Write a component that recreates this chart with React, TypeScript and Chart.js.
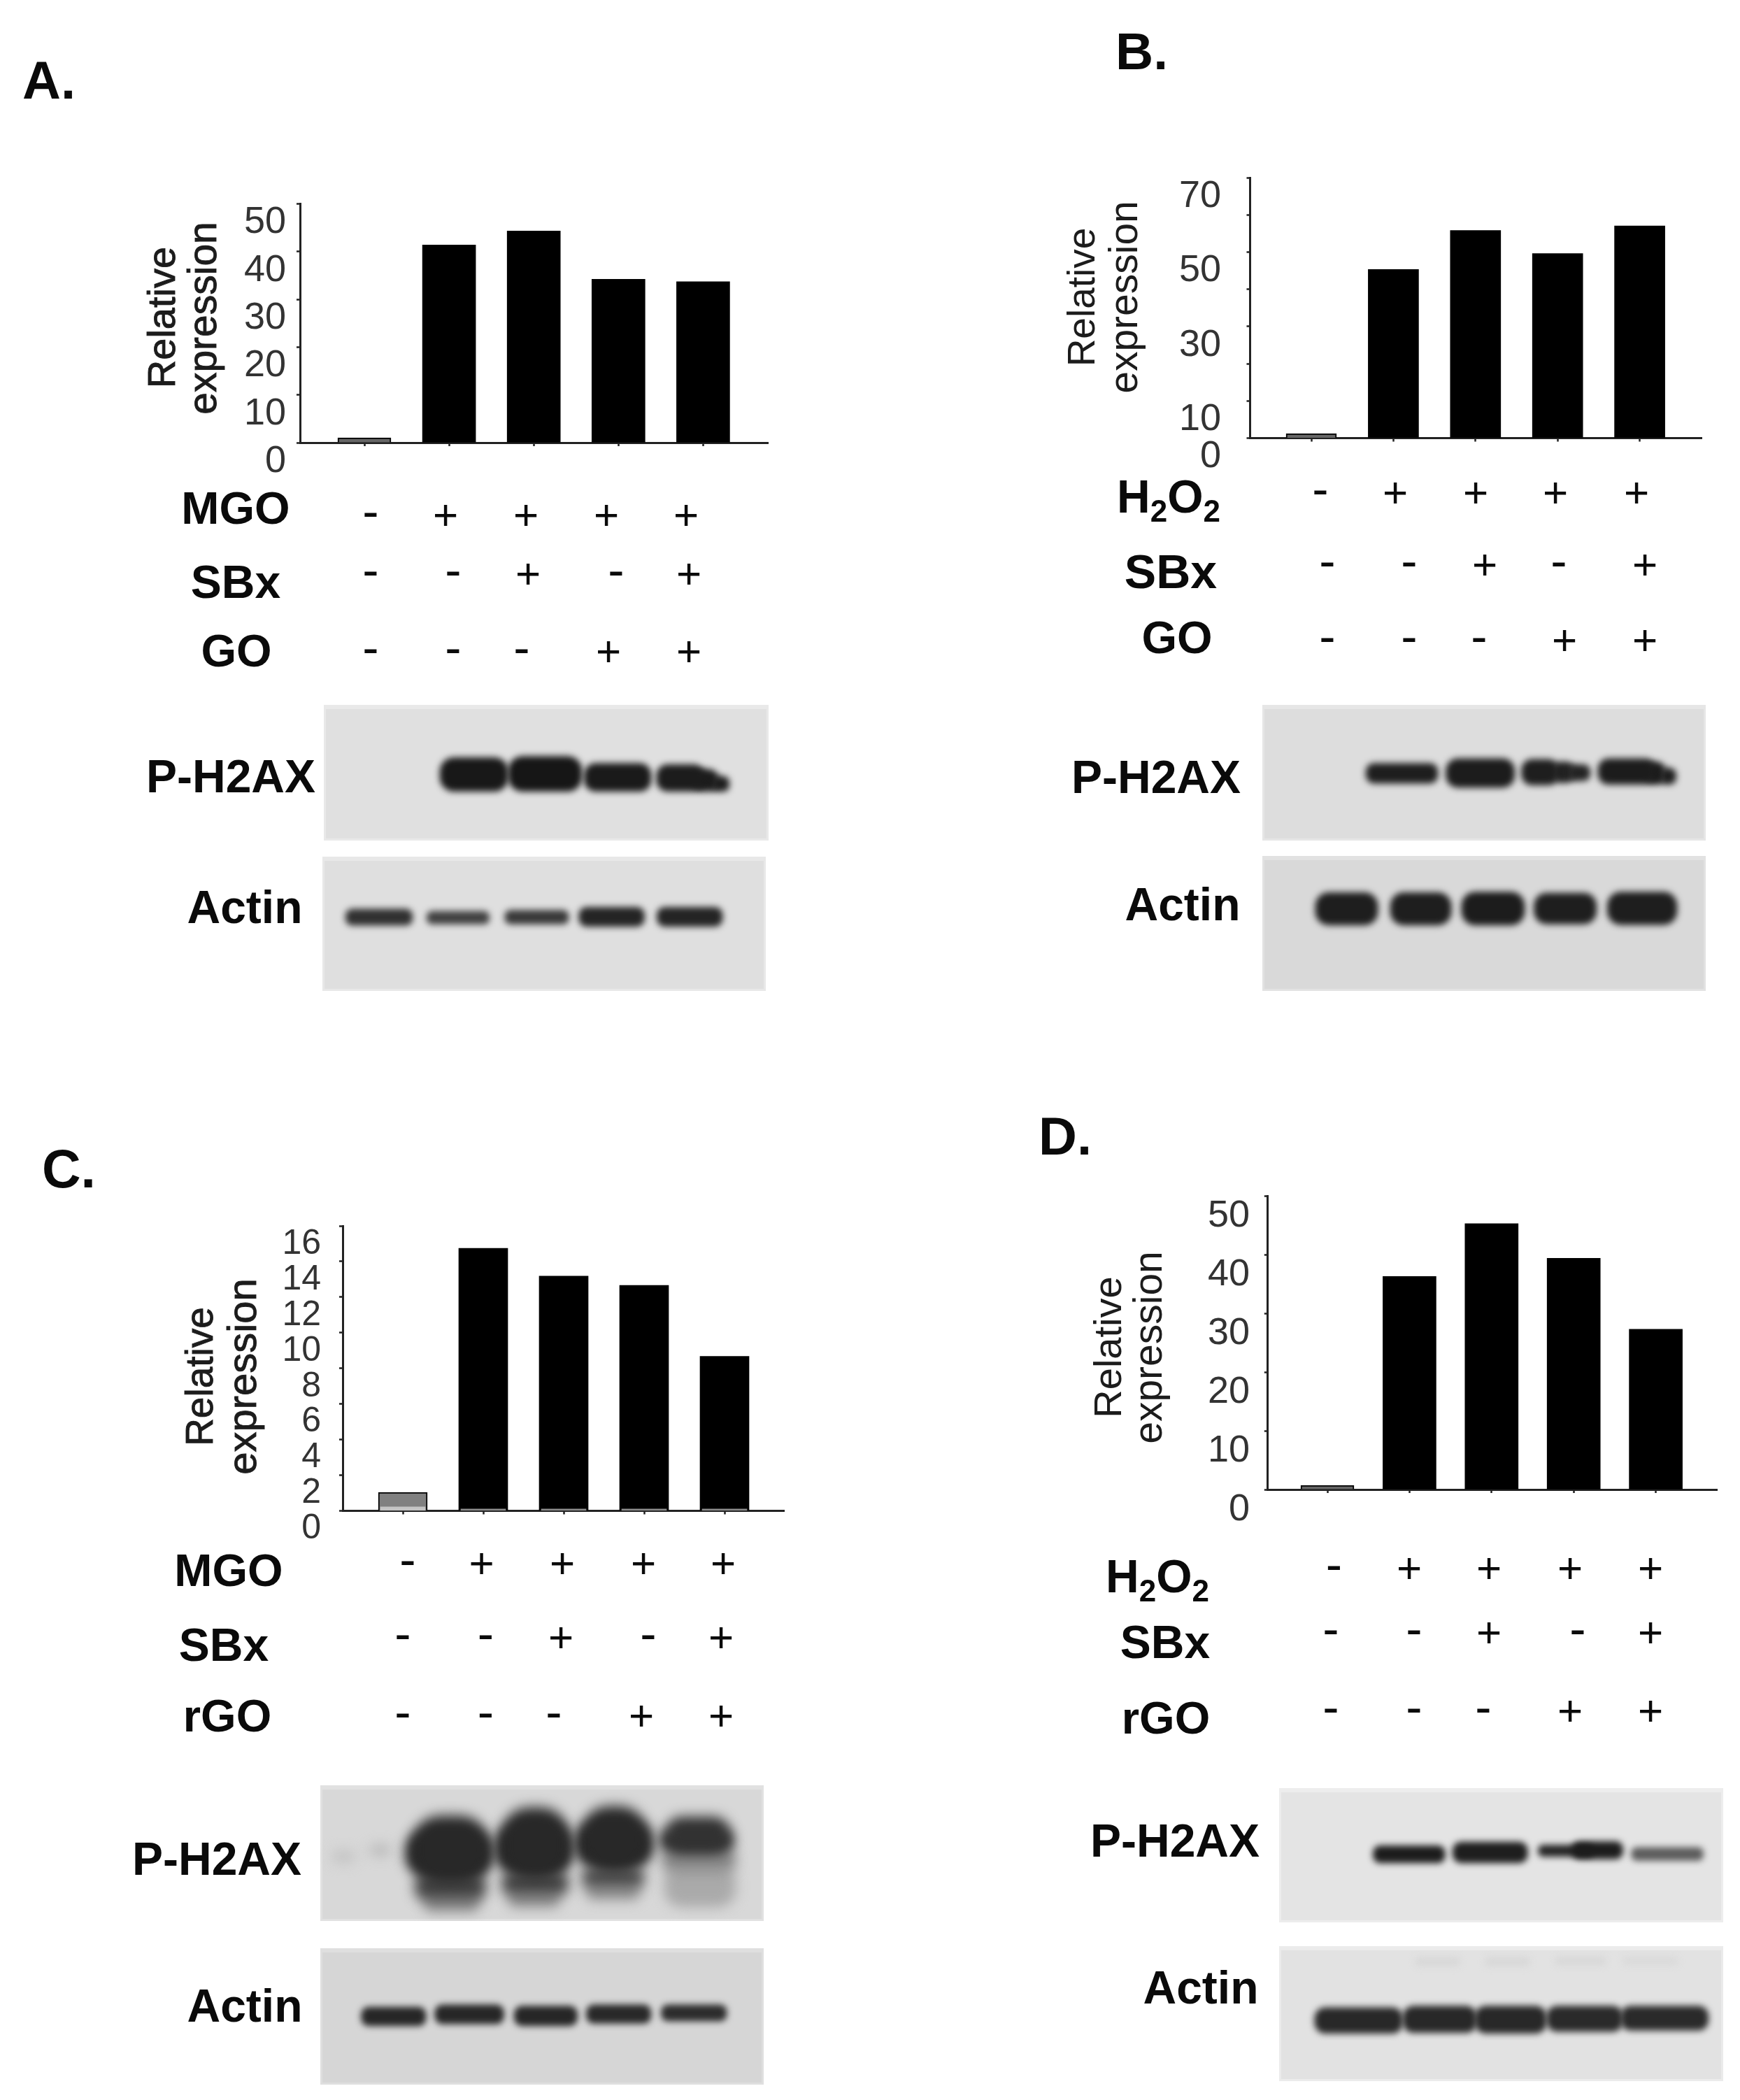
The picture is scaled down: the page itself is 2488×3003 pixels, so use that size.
import React, { useEffect, useRef } from "react";
import { Chart, registerables } from "chart.js";

Chart.register(...registerables);

const FONT = '"Liberation Sans", Arial, sans-serif';

// ---------- bar chart data ----------
const lanes = [1, 2, 3, 4, 5];
const panelAValues = [1.0, 41.4, 44.3, 34.2, 33.7];
const panelBValues = [1.2, 45.3, 55.8, 49.6, 57.0];
const panelCValues = [1.04, 14.74, 13.18, 12.66, 8.67];
const panelDValues = [0.7, 36.3, 45.3, 39.4, 27.3];
const panelCBaseStrip = [0.22, 0.1, 0.1, 0.1, 0.1];

const panelATickLabels = [50, 40, 30, 20, 10, 0];
const panelBTickLabels = [70, 50, 30, 10, 0];
const panelCTickLabels = [16, 14, 12, 10, 8, 6, 4, 2, 0];
const panelDTickLabels = [50, 40, 30, 20, 10, 0];

// ---------- treatment rows ----------
const treatmentPositive = ["-", "+", "+", "+", "+"];
const sbxSigns = ["-", "-", "+", "-", "+"];
const goSigns = ["-", "-", "-", "+", "+"];

// ---------- blot bands: [left, right, top, bottom, grey level] ----------
type Band = number[];
const blotAPh2ax: Band[] = [
  [752, 905, 370, 515, 24], [905, 1070, 365, 515, 22], [1075, 1225, 395, 515, 26], [1237, 1345, 400, 515, 28], [1320, 1375, 420, 515, 28], [1360, 1400, 450, 515, 30],
];
const blotAActin: Band[] = [
  [540, 690, 1020, 1090, 48], [722, 862, 1030, 1085, 64], [897, 1040, 1025, 1085, 56], [1063, 1210, 1012, 1095, 36], [1238, 1385, 1012, 1095, 36],
];
const blotBPh2ax: Band[] = [
  [432, 662, 335, 420, 30], [688, 908, 315, 438, 28], [930, 1050, 318, 428, 30], [1030, 1100, 328, 418, 34], [1080, 1150, 340, 410, 36], [1175, 1360, 315, 425, 28], [1330, 1390, 330, 425, 28], [1375, 1425, 355, 425, 30],
];
const blotBActin: Band[] = [
  [270, 470, 890, 1030, 30], [510, 705, 890, 1030, 30], [738, 940, 888, 1030, 28], [970, 1170, 892, 1025, 30], [1205, 1428, 888, 1028, 30],
];
const blotCPh2ax: Band[] = [
  [690, 860, 230, 520, 40], [675, 870, 300, 480, 38], [695, 855, 480, 590, 70], [715, 840, 560, 640, 140],
  [890, 1040, 195, 500, 40], [875, 1050, 270, 470, 38], [890, 1040, 470, 570, 70], [905, 1020, 550, 620, 140],
  [1070, 1215, 190, 470, 40], [1055, 1230, 260, 440, 38], [1070, 1210, 450, 540, 80], [1080, 1200, 520, 590, 150],
  [1260, 1400, 235, 390, 50], [1245, 1410, 290, 380, 48], [1250, 1415, 370, 470, 135], [1255, 1415, 440, 620, 170],
  [510, 560, 380, 430, 195], [595, 640, 355, 400, 185],
];
const blotCActin: Band[] = [
  [575, 720, 1050, 1130, 38], [740, 895, 1040, 1122, 38], [918, 1060, 1045, 1130, 38], [1080, 1225, 1040, 1120, 40], [1248, 1395, 1040, 1110, 44],
];
const blotDPh2ax: Band[] = [
  [700, 870, 358, 432, 28], [888, 1065, 342, 432, 30], [1170, 1290, 340, 415, 28], [1090, 1220, 355, 405, 36], [1310, 1480, 365, 422, 92],
];
const blotDActin: Band[] = [
  [562, 770, 1052, 1163, 40], [770, 945, 1045, 1160, 40], [940, 1110, 1045, 1163, 40], [1110, 1290, 1045, 1155, 42], [1285, 1492, 1045, 1150, 42],
  [800, 905, 835, 875, 216], [965, 1070, 835, 875, 216], [1130, 1250, 835, 870, 216], [1290, 1420, 835, 870, 218],
];

// ---------- layout (page pixels) ----------
type Seg = { t: string; sub?: boolean };
const H2O2: Seg[] = [{ t: "H" }, { t: "2", sub: true }, { t: "O" }, { t: "2", sub: true }];

const panels = [
  {
    box: [0, 0, 1244, 1700], letter: ["A.", 32, 141, 76],
    axisX: 429, plotTop: 291.5, baseline: 633, plotRight: 1098, firstCenter: 521, spacing: 121.1,
    barWidth: 76, values: panelAValues, strip: null, fill: "#666666", yMax: 50, step: 10, tickLabels: panelATickLabels,
    tickFont: 54, tickRight: 409, labelOffset: 27,
    relative: [250, 454, 56], expression: [308.5, 455, 57], embolden: 0.9,
    rows: [
      { label: "MGO", x: 337, y: 749, size: 65, signs: treatmentPositive, signY: 736, signX: [530, 637, 752, 867, 981] },
      { label: "SBx", x: 337, y: 855, size: 66, signs: sbxSigns, signY: 820, signX: [530, 648, 755, 881, 985] },
      { label: "GO", x: 338, y: 953, size: 65, signs: goSigns, signY: 931, signX: [530, 648, 746, 870, 985] },
    ],
    plusSize: 62, ph2ax: [330, 1133], actin: [350, 1320],
  },
  {
    box: [1244, 0, 1244, 1600], letter: ["B.", 1595, 98.5, 75],
    axisX: 1787.5, plotTop: 254, baseline: 626.5, plotRight: 2433, firstCenter: 1875, spacing: 117.4,
    barWidth: 72, values: panelBValues, strip: null, fill: "#666666", yMax: 70, step: 10, tickLabels: panelBTickLabels,
    tickFont: 54, tickRight: 1746, labelOffset: 27,
    relative: [1565, 425, 55], expression: [1625.5, 425, 57], embolden: 0,
    rows: [
      { segs: H2O2, left: 1597, y: 733, size: 66, subDrop: 13, signs: treatmentPositive, signY: 704, signX: [1888, 1995, 2110, 2224, 2340] },
      { label: "SBx", x: 1674, y: 841, size: 68, signs: sbxSigns, signY: 807, signX: [1898, 2015, 2123, 2229, 2352] },
      { label: "GO", x: 1683, y: 934, size: 65, signs: goSigns, signY: 915, signX: [1898, 2015, 2115, 2237, 2352] },
    ],
    plusSize: 62, ph2ax: [1653, 1134], actin: [1691, 1316],
  },
  {
    box: [0, 1620, 1244, 1383], letter: ["C.", 60, 1697.5, 77],
    axisX: 490, plotTop: 1753, baseline: 2160.5, plotRight: 1121.5, firstCenter: 576, spacing: 115,
    barWidth: 70, values: panelCValues, strip: panelCBaseStrip, fill: "#808080", yMax: 16, step: 2, tickLabels: panelCTickLabels,
    tickFont: 50, tickRight: 459, labelOffset: 26,
    relative: [303.5, 1968.5, 55], expression: [366, 1968.5, 58], embolden: 0.9,
    rows: [
      { label: "MGO", x: 327, y: 2268, size: 65, signs: treatmentPositive, signY: 2235.5, signX: [583, 688.5, 804, 920, 1034] },
      { label: "SBx", x: 320, y: 2375, size: 66, signs: sbxSigns, signY: 2341, signX: [576, 694.5, 802, 927, 1031] },
      { label: "rGO", x: 325, y: 2476, size: 65, signs: goSigns, signY: 2453, signX: [576, 694.5, 792, 917, 1031] },
    ],
    plusSize: 62, ph2ax: [310, 2681], actin: [350, 2891],
  },
  {
    box: [1244, 1580, 1244, 1423], letter: ["D.", 1485, 1650.5, 76],
    axisX: 1812.8, plotTop: 1710.5, baseline: 2130, plotRight: 2455, firstCenter: 1898, spacing: 117.4,
    barWidth: 76, values: panelDValues, strip: null, fill: "#666666", yMax: 50, step: 10, tickLabels: panelDTickLabels,
    tickFont: 54, tickRight: 1787, labelOffset: 29,
    relative: [1603, 1926.5, 56], expression: [1661, 1927, 57], embolden: 0,
    rows: [
      { segs: H2O2, left: 1581, y: 2276.5, size: 66, subDrop: 13, signs: treatmentPositive, signY: 2242.5, signX: [1907.5, 2015, 2129, 2245, 2360] },
      { label: "SBx", x: 1666, y: 2371, size: 66, signs: sbxSigns, signY: 2334, signX: [1903, 2022, 2129, 2256, 2360] },
      { label: "rGO", x: 1667, y: 2479, size: 65, signs: goSigns, signY: 2446, signX: [1903, 2022, 2121, 2245, 2360] },
    ],
    plusSize: 62, ph2ax: [1680, 2655], actin: [1717, 2865],
  },
];

// film frames: page box, then the axis units used by the band lists, blur and film grey
const blots = [
  { box: [463.4, 1008, 636, 194], xr: [492, 1488], yr: [145, 725], bg: 224, blur: 5, bands: blotAPh2ax },
  { box: [461.4, 1225, 634, 192], xr: [488, 1482], yr: [795, 1372], bg: 223, blur: 5, bands: blotAActin },
  { box: [1805, 1008, 634, 194], xr: [100, 1520], yr: [85, 665], bg: 221, blur: 5, bands: blotBPh2ax },
  { box: [1805, 1224, 634, 193], xr: [100, 1520], yr: [733, 1312], bg: 217, blur: 5, bands: blotBActin },
  { box: [458.4, 2553, 634, 194], xr: [483, 1478], yr: [100, 680], bg: 216, blur: 9, bands: blotCPh2ax },
  { box: [458.4, 2786, 634, 195], xr: [483, 1478], yr: [798, 1382], bg: 214, blur: 5, bands: blotCActin },
  { box: [1828.6, 2557, 635, 192], xr: [478, 1527], yr: [110, 688], bg: 228, blur: 5, bands: blotDPh2ax },
  { box: [1828.6, 2783, 635, 193], xr: [478, 1527], yr: [788, 1368], bg: 226, blur: 5, bands: blotDActin },
];

function panelTextPlugin(p: any) {
  return {
    id: "panelText",
    afterDraw(chart: any) {
      const ctx = chart.ctx;
      ctx.save();
      ctx.translate(-p.box[0], -p.box[1]);
      ctx.textBaseline = "alphabetic";
      ctx.fillStyle = "#0a0a0a";

      const [lt, lx, ly, ls] = p.letter;
      ctx.textAlign = "left";
      ctx.font = `bold ${ls}px ${FONT}`;
      ctx.fillText(lt, lx, ly);

      for (const [text, spec] of [["Relative", p.relative], ["expression", p.expression]] as any) {
        ctx.save();
        ctx.translate(spec[0], spec[1]);
        ctx.rotate(-Math.PI / 2);
        ctx.textAlign = "center";
        ctx.fillStyle = "#1c1c1c";
        ctx.strokeStyle = "#1c1c1c";
        ctx.lineWidth = p.embolden;
        ctx.font = `${spec[2]}px ${FONT}`;
        ctx.fillText(text, 0, 0);
        if (p.embolden) ctx.strokeText(text, 0, 0);
        ctx.restore();
      }

      for (const r of p.rows) {
        ctx.fillStyle = "#0a0a0a";
        if (r.segs) {
          ctx.textAlign = "left";
          let x = r.left;
          for (const s of r.segs) {
            const size = s.sub ? Math.round(r.size * 0.66) : r.size;
            ctx.font = `bold ${size}px ${FONT}`;
            ctx.fillText(s.t, x, s.sub ? r.y + r.subDrop : r.y);
            x += ctx.measureText(s.t).width;
          }
        } else {
          ctx.textAlign = "center";
          ctx.font = `bold ${r.size}px ${FONT}`;
          ctx.fillText(r.label, r.x, r.y);
        }
        ctx.textAlign = "center";
        r.signs.forEach((sign: string, i: number) => {
          const plus = sign === "+";
          const size = plus ? p.plusSize : 70;
          ctx.font = `${size}px ${FONT}`;
          ctx.fillText(sign, r.signX[i], r.signY + size * (plus ? 0.335 : 0.27));
        });
      }

      ctx.textAlign = "center";
      ctx.font = `bold 66px ${FONT}`;
      ctx.fillText("P-H2AX", p.ph2ax[0], p.ph2ax[1]);
      ctx.fillText("Actin", p.actin[0], p.actin[1]);
      ctx.restore();
    },
  };
}

function PanelChart({ p }: { p: any }) {
  const ref = useRef<HTMLCanvasElement>(null);
  useEffect(() => {
    const [bx, by, bw, bh] = p.box;
    const yWidth = 150;
    const xHeight = 8;
    const xMin = 1 - (p.firstCenter - p.axisX) / p.spacing;
    const xMax = xMin + (p.plotRight - p.axisX) / p.spacing;
    const tickLen = 5;
    const bars = {
      type: "bar",
      label: "Relative expression",
      data: lanes.map((x, i) => ({ x, y: p.values[i] })),
      backgroundColor: lanes.map((_, i) => (i === 0 ? p.fill : "#000000")),
      borderColor: "#000000",
      borderWidth: lanes.map((_, i) => (i === 0 ? 2 : 0)),
      barThickness: p.barWidth,
      grouped: false,
    };
    const datasets: any[] = [bars];
    if (p.strip) {
      datasets.unshift({
        type: "bar",
        label: "base",
        data: lanes.map((x, i) => ({ x, y: p.strip[i] })),
        backgroundColor: lanes.map((_, i) => (i === 0 ? "#c4c4c4" : "#8c8c8c")),
        barThickness: p.barWidth - 6,
        grouped: false,
      });
    }
    const chart = new Chart(ref.current as HTMLCanvasElement, {
      type: "bar",
      data: { datasets },
      plugins: [panelTextPlugin(p)],
      options: {
        animation: false,
        responsive: false,
        maintainAspectRatio: false,
        layout: {
          padding: {
            left: p.axisX - bx - yWidth,
            top: p.plotTop - by,
            right: bx + bw - p.plotRight,
            bottom: by + bh - p.baseline - xHeight,
          },
        },
        plugins: { legend: { display: false }, tooltip: { enabled: false }, title: { display: false } },
        scales: {
          x: {
            type: "linear",
            min: xMin,
            max: xMax,
            offset: false,
            afterBuildTicks: (axis: any) => {
              axis.ticks = lanes.map((v) => ({ value: v }));
            },
            afterFit: (axis: any) => {
              axis.height = xHeight;
            },
            ticks: { display: false },
            grid: { offset: false, drawOnChartArea: false, tickLength: tickLen, tickWidth: 2.5, tickColor: "#222222" },
            border: { color: "#222222", width: 3 },
          },
          y: {
            type: "linear",
            min: 0,
            max: p.yMax,
            afterFit: (axis: any) => {
              axis.width = yWidth;
            },
            ticks: {
              stepSize: p.step,
              autoSkip: false,
              maxRotation: 0,
              color: "#333333",
              font: { family: FONT, size: p.tickFont },
              padding: p.axisX - p.tickRight - tickLen,
              labelOffset: p.labelOffset,
              callback: (v: any) => (p.tickLabels.includes(v) ? String(v) : ""),
            },
            grid: { drawOnChartArea: false, tickLength: tickLen, tickWidth: 2.5, tickColor: "#222222" },
            border: { color: "#222222", width: 3 },
          },
        },
      },
    } as any);
    return () => chart.destroy();
  }, [p]);
  return (
    <canvas
      ref={ref}
      width={p.box[2]}
      height={p.box[3]}
      style={{ position: "absolute", left: p.box[0], top: p.box[1], width: p.box[2], height: p.box[3] }}
    />
  );
}

const filmPlugin = {
  id: "film",
  beforeDraw(chart: any, _a: any, o: any) {
    const { ctx, width, height } = chart;
    ctx.save();
    ctx.fillStyle = `rgb(${o.bg + 9},${o.bg + 9},${o.bg + 9})`;
    ctx.fillRect(0, 0, width, height);
    ctx.fillStyle = `rgb(${o.bg},${o.bg},${o.bg})`;
    ctx.fillRect(3, 6, width - 6, height - 9);
    ctx.restore();
  },
  beforeDatasetDraw(chart: any, _a: any, o: any) {
    chart.ctx.filter = `blur(${o.blur}px)`;
  },
  afterDatasetDraw(chart: any) {
    chart.ctx.filter = "none";
  },
};

function BlotChart({ b }: { b: any }) {
  const ref = useRef<HTMLCanvasElement>(null);
  useEffect(() => {
    const [, , w, h] = b.box;
    const unitsX = (b.xr[1] - b.xr[0]) / w;
    const unitsY = (b.yr[1] - b.yr[0]) / h;
    const datasets = b.bands.map((band: Band) => {
      const [x0, x1, y0, y1, g] = band;
      const bandW = (x1 - x0) / unitsX;
      const bandH = (y1 - y0) / unitsY;
      return {
        type: "bar",
        data: [{ x: (x0 + x1) / 2, y: [y0, y1] }],
        backgroundColor: `rgb(${g},${g},${g})`,
        barThickness: bandW,
        borderRadius: Math.min(bandW, bandH) * 0.42,
        borderSkipped: false,
        grouped: false,
      };
    });
    const chart = new Chart(ref.current as HTMLCanvasElement, {
      type: "bar",
      data: { datasets },
      plugins: [filmPlugin],
      options: {
        animation: false,
        responsive: false,
        maintainAspectRatio: false,
        layout: { padding: 0 },
        plugins: {
          legend: { display: false },
          tooltip: { enabled: false },
          film: { bg: b.bg, blur: b.blur },
        },
        scales: {
          x: { type: "linear", display: false, min: b.xr[0], max: b.xr[1], offset: false, grid: { offset: false } },
          y: { type: "linear", display: false, min: b.yr[0], max: b.yr[1], reverse: true },
        },
      },
    } as any);
    return () => chart.destroy();
  }, [b]);
  return (
    <canvas
      ref={ref}
      width={b.box[2]}
      height={b.box[3]}
      style={{ position: "absolute", left: b.box[0], top: b.box[1], width: b.box[2], height: b.box[3] }}
    />
  );
}

export default function App() {
  return (
    <div style={{ position: "absolute", left: 0, top: 0, width: 2488, height: 3003, background: "#ffffff", overflow: "hidden" }}>
      {panels.map((p, i) => (
        <PanelChart key={i} p={p} />
      ))}
      {blots.map((b, i) => (
        <BlotChart key={i} b={b} />
      ))}
    </div>
  );
}
